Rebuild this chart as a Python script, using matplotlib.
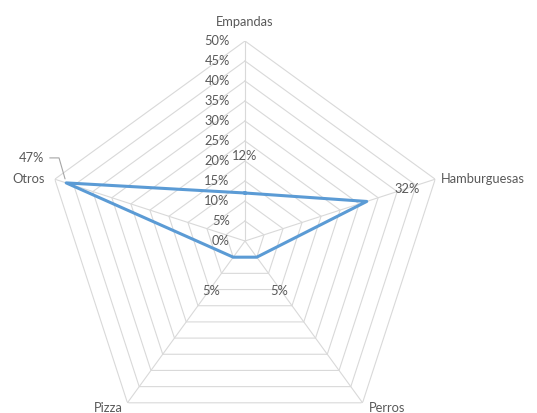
import numpy as np
import matplotlib
matplotlib.use("Agg")
import matplotlib.pyplot as plt

categories = ["Empandas", "Hamburguesas", "Perros", "Pizza", "Otros"]
values = [0.12, 0.32, 0.05, 0.05, 0.47]
value_labels = ["12%", "32%", "5%", "5%", "47%"]
rticks = [0.0, 0.05, 0.10, 0.15, 0.20, 0.25, 0.30, 0.35, 0.40, 0.45, 0.50]
rtick_labels = ["0%", "5%", "10%", "15%", "20%", "25%", "30%", "35%", "40%", "45%", "50%"]

plt.rcParams['font.family'] = ['Lato', 'DejaVu Sans']
TXT = '#595959'
GRID = '#d9d9d9'
LINE = '#5b9bd5'
FS = 9.3

fig = plt.figure(figsize=(5.37, 4.13), dpi=100)
ax = fig.add_axes([45/537, -28/413, 400/537, 400/413], projection='polar')
ax.set_theta_offset(np.pi/2)
ax.set_theta_direction(-1)
ax.set_ylim(0, 0.5)
ax.grid(False)
ax.spines['polar'].set_visible(False)
ax.set_xticks([])
ax.set_yticks([])
ax.patch.set_alpha(0)

n = len(categories)
angles = np.arange(n) * 2*np.pi/n
ang_c = np.append(angles, angles[0])

# polygon gridlines
for r in rticks[1:]:
    ax.plot(ang_c, [r]*(n+1), color=GRID, lw=0.8, zorder=1)
# spokes
for a in angles:
    ax.plot([a, a], [0, rticks[-1]], color=GRID, lw=0.8, zorder=1)

# data
vals_c = values + [values[0]]
ax.plot(ang_c, vals_c, color=LINE, lw=2.2, zorder=3, solid_joinstyle='round')

# radial tick labels
for r, lab in zip(rticks, rtick_labels):
    ax.annotate(lab, xy=(0, r), xytext=(-11, 0), textcoords='offset points',
                ha='right', va='center', fontsize=FS, color=TXT, annotation_clip=False)

# category labels
cat_off = [(0, 14, 'center', 'center'), (4, 0, 'left', 'center'),
           (18, -4, 'center', 'center'), (-14, -4, 'center', 'center'),
           (-7, 0, 'right', 'center')]
for a, c, (dx, dy, ha, va) in zip(angles, categories, cat_off):
    ax.annotate(c, xy=(a, 0.5), xytext=(dx, dy), textcoords='offset points',
                ha=ha, va=va, fontsize=FS, color=TXT, annotation_clip=False)

# data labels
lab_off = [(0, 27), (29, 9), (16, -24), (-16, -24), (-25, 18)]
for i, (a, v, lab, (dx, dy)) in enumerate(zip(angles, values, value_labels, lab_off)):
    if i == 4:
        ax.annotate(lab, xy=(a, v), xytext=(dx, dy), textcoords='offset points',
                    ha='center', va='center', fontsize=FS, color=TXT, annotation_clip=False,
                    arrowprops=dict(arrowstyle='-', color='#a6a6a6', lw=0.8,
                                    connectionstyle='angle,angleA=0,angleB=106,rad=0',
                                    shrinkA=2, shrinkB=3))
    else:
        ax.annotate(lab, xy=(a, v), xytext=(dx, dy), textcoords='offset points',
                    ha='center', va='center', fontsize=FS, color=TXT, annotation_clip=False)

fig.savefig('out.png', dpi=100)
